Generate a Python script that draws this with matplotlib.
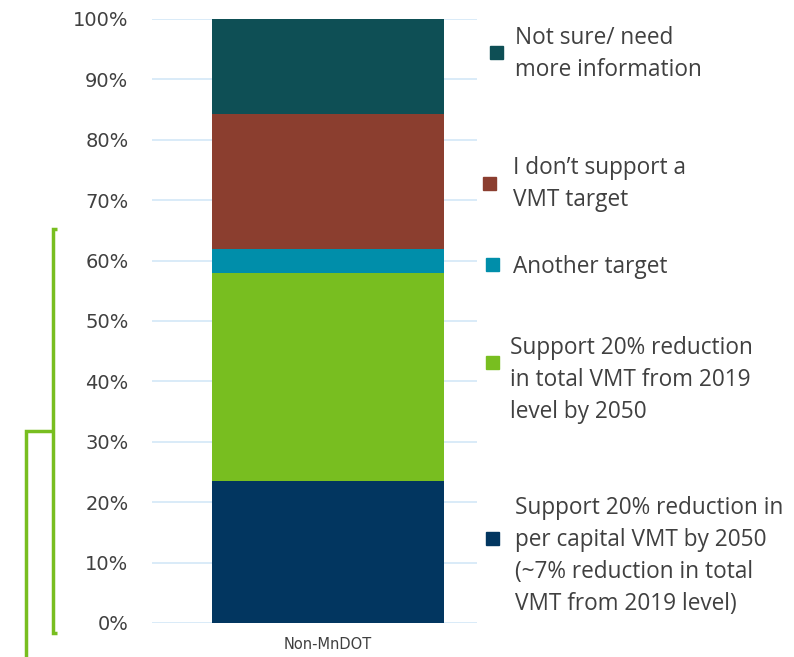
import matplotlib.pyplot as plt
from matplotlib.lines import Line2D

category = ['Non-MnDOT']
labels = ['Support 20% reduction in\nper capital VMT by 2050\n(~7% reduction in total\nVMT from 2019 level)',
          'Support 20% reduction\nin total VMT from 2019\nlevel by 2050',
          'Another target',
          'I don\u2019t support a\nVMT target',
          'Not sure/ need\nmore information']
values = [23.5, 34.4, 4.0, 22.4, 15.7]
colors = ['#023660', '#78BE20', '#008EAA', '#8B3E2F', '#0E4F55']

# legend layout in pixels (marker x, marker y, text x, text y)
marker_x = [486, 486, 486, 483, 490]
marker_y = [538, 362, 265, 183, 52]
text_x = [515, 510, 513, 513, 515]
text_y = [556, 380, 267, 184, 54]

W, H = 794, 657
fig = plt.figure(figsize=(W / 100, H / 100), dpi=100)
ax = fig.add_axes([152 / W, 1 - 623 / H, (477 - 152) / W, (623 - 19) / H])

bottom = 0
for v, c in zip(values, colors):
    ax.bar(0, v, bottom=bottom, width=1.0, color=c, zorder=3)
    bottom += v

ax.set_ylim(0, 100)
ax.set_xlim(-0.5 - 60 / 232, 0.5 + 33 / 232)
ax.set_yticks(range(0, 101, 10))
ax.set_yticklabels([f'{t}%' for t in range(0, 101, 10)], fontsize=14, color='#404040')
ax.set_xticks([0])
ax.set_xticklabels(category, fontsize=10.5, color='#404040')
ax.tick_params(axis='y', length=0, pad=17)
ax.tick_params(axis='x', length=0, pad=10)
ax.grid(axis='y', color='#D3E7F7', linewidth=1.2, zorder=0)
for s in ax.spines.values():
    s.set_visible(False)

# legend entries placed next to the bar
for lab, c, mx, my, tx, ty in zip(labels, colors, marker_x, marker_y, text_x, text_y):
    fig.patches.append(plt.Rectangle((mx / W, 1 - (my + 6.5) / H), 13 / W, 13 / H,
                                     transform=fig.transFigure, color=c))
    fig.text(tx / W, 1 - ty / H, lab, fontsize=16.3, family='Open Sans',
             color='#404040', va='center', ha='left', linespacing=1.45)

# green bracket on the left
g = '#78BE20'
def fline(xs, ys):
    fig.add_artist(Line2D([x / W for x in xs], [1 - y / H for y in ys],
                          color=g, linewidth=2.5, transform=fig.transFigure,
                          solid_capstyle='butt', solid_joinstyle='miter'))

fline([57, 53, 53, 57], [229, 229, 633, 633])
fline([53, 26, 26], [431, 431, 657])

fig.savefig('out.png', dpi=100, facecolor='white')
